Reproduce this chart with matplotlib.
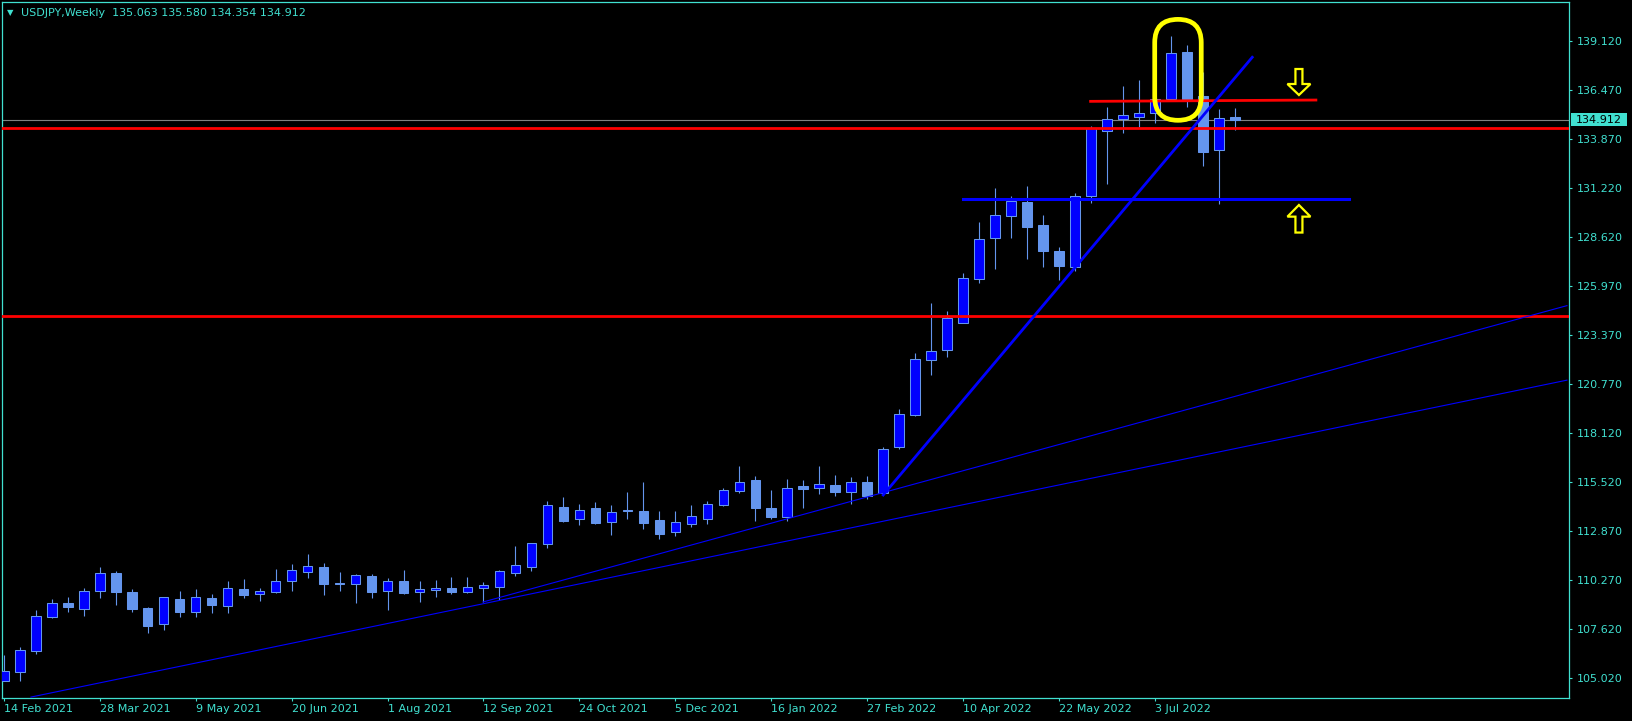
import matplotlib
matplotlib.use("Agg")
import matplotlib.pyplot as plt
import matplotlib.transforms as mtransforms
from matplotlib.patches import FancyBboxPatch, Polygon, Rectangle
import numpy as np

# USDJPY weekly bars, week of 14 Feb 2021 to week of 7 Aug 2022
opens = [104.89, 105.37, 106.50, 108.32, 109.03, 108.74, 109.71, 110.65, 109.64, 108.76,
         107.94, 109.24, 108.55, 109.30, 108.91, 109.78, 109.51, 109.65, 110.21, 110.73,
         110.98, 110.12, 110.05, 110.49, 109.67, 110.23, 109.62, 109.73, 109.85, 109.65,
         109.87, 109.92, 110.67, 110.96, 112.19, 114.17, 113.53, 114.12, 113.37, 114.03,
         113.97, 113.49, 112.83, 113.30, 113.56, 114.31, 115.06, 115.62, 114.12, 113.67,
         115.31, 115.22, 115.37, 115.01, 115.51, 114.92, 117.38, 119.13, 122.08, 122.61,
         124.02, 126.38, 128.58, 129.75, 130.52, 129.29, 127.90, 127.02, 130.86, 134.34,
         134.97, 135.09, 135.30, 136.05, 138.55, 136.18, 133.29, 135.063]
highs = [106.26, 106.69, 108.67, 109.26, 109.35, 109.85, 110.98, 110.76, 109.78, 108.82,
         109.35, 109.69, 109.80, 109.53, 110.23, 110.33, 109.87, 110.87, 111.15, 111.67,
         111.17, 110.71, 110.60, 110.60, 110.37, 110.81, 110.23, 110.28, 110.44, 110.44,
         110.17, 110.80, 112.10, 112.28, 114.51, 114.71, 114.35, 114.46, 114.28, 114.99,
         115.53, 113.97, 113.97, 114.29, 114.51, 115.21, 116.38, 115.85, 115.10, 115.69,
         115.63, 116.38, 115.90, 115.79, 115.85, 117.38, 119.44, 122.42, 125.09, 124.67,
         126.70, 129.45, 131.27, 130.84, 131.38, 129.82, 128.11, 131.02, 134.59, 135.61,
         136.71, 137.05, 136.60, 139.41, 138.93, 137.50, 135.50, 135.580]
lows = [104.89, 104.89, 106.33, 108.26, 108.58, 108.37, 109.32, 108.96, 108.57, 107.46,
        107.62, 108.30, 108.30, 108.53, 108.53, 109.32, 109.17, 109.58, 109.71, 110.40,
        109.49, 109.71, 109.07, 109.33, 108.67, 109.53, 109.10, 109.37, 109.53, 109.60,
        109.10, 109.19, 110.51, 110.78, 112.01, 113.40, 113.24, 113.30, 112.71, 113.56,
        113.03, 112.49, 112.63, 113.13, 113.30, 114.24, 114.96, 113.46, 113.56, 113.46,
        114.13, 114.90, 114.79, 114.37, 114.62, 114.81, 117.29, 119.08, 121.27, 122.24,
        124.02, 126.20, 126.95, 128.61, 127.49, 127.02, 126.36, 126.84, 130.45, 131.50,
        134.23, 134.54, 134.77, 136.02, 135.59, 132.47, 130.40, 134.354]
closes = [105.41, 106.51, 108.37, 109.03, 108.85, 109.67, 110.64, 109.65, 108.73, 107.82,
          109.35, 108.58, 109.35, 108.96, 109.83, 109.49, 109.67, 110.21, 110.80, 111.01,
          110.08, 110.05, 110.53, 109.65, 110.21, 109.60, 109.80, 109.83, 109.65, 109.90,
          109.99, 110.74, 111.08, 112.24, 114.28, 113.46, 114.01, 113.35, 113.90, 113.96,
          113.35, 112.76, 113.37, 113.69, 114.33, 115.08, 115.51, 114.13, 113.65, 115.19,
          115.15, 115.40, 114.99, 115.51, 114.79, 117.28, 119.15, 122.10, 122.52, 124.29,
          126.43, 128.52, 129.81, 130.57, 129.20, 127.91, 127.11, 130.82, 134.50, 134.95,
          135.16, 135.27, 136.05, 138.50, 136.05, 133.22, 135.02, 134.912]

# x axis labels every 6 weeks
date_ticks = [0, 6, 12, 18, 24, 30, 36, 42, 48, 54, 60, 66, 72]
date_labels = ["14 Feb 2021", "28 Mar 2021", "9 May 2021", "20 Jun 2021", "1 Aug 2021",
               "12 Sep 2021", "24 Oct 2021", "5 Dec 2021", "16 Jan 2022", "27 Feb 2022",
               "10 Apr 2022", "22 May 2022", "3 Jul 2022"]
price_labels = ["139.120", "136.470", "133.870", "131.220", "128.620", "125.970", "123.370",
                "120.770", "118.120", "115.520", "112.870", "110.270", "107.620", "105.020"]

# drawn objects
resist_levels = [134.48, 124.41]
short_red_x = [67.97, 82.06]
short_red_y = [135.91, 135.98]
support_x = [59.97, 84.13]
support_y = 130.66
steep_trend_x = [55.0, 78.08]
steep_trend_y = [114.83, 138.27]
thin_trend_a_x = [1.70, 97.76]
thin_trend_a_y = [104.01, 120.98]
thin_trend_b_x = [29.97, 97.76]
thin_trend_b_y = [109.10, 124.97]
oval_x = [71.98, 74.89]
oval_y = [134.895, 140.30]
arrow_bar = 81
arrow_down_tip = 136.25
arrow_up_tip = 130.36
bid = 134.912

turq = "#40E0D0"
bull_fill = "#0000FF"
bear_fill = "#6495ED"
edge = "#6495ED"

W, H = 1633, 721
fig = plt.figure(figsize=(W / 100, H / 100), dpi=100, facecolor="black")
ax_l, ax_r, ax_t, ax_b = 2.5, 1569, 2.3, 697.5
ax = fig.add_axes([ax_l / W, 1 - ax_b / H, (ax_r - ax_l) / W, (ax_b - ax_t) / H])
ax.set_facecolor("black")

xlim = (-0.081, 97.89)
ylim = (103.986, 141.214)
ax.set_xlim(*xlim)
ax.set_ylim(*ylim)

x = np.arange(len(opens))
o = np.array(opens)
c = np.array(closes)
up = c >= o

# bid line under candles
ax.axhline(bid, color="#808080", lw=0.8, zorder=1)

# candles
ax.vlines(x, lows, highs, color=edge, lw=0.8, zorder=2)
ax.bar(x, np.abs(c - o), bottom=np.minimum(o, c), width=0.6,
       color=np.where(up, bull_fill, bear_fill), edgecolor=edge, lw=0.75, zorder=3)

# horizontal levels and trend lines
for lvl in resist_levels:
    ax.axhline(lvl, color="#FF0000", lw=2.0, zorder=4)
ax.plot(short_red_x, short_red_y, color="#FF0000", lw=2.0, zorder=4)
ax.plot(support_x, [support_y, support_y], color="#0000FF", lw=2.2, zorder=4)
ax.plot(thin_trend_a_x, thin_trend_a_y, color="#0000FF", lw=0.8, zorder=4)
ax.plot(thin_trend_b_x, thin_trend_b_y, color="#0000FF", lw=0.8, zorder=4)
ax.plot(steep_trend_x, steep_trend_y, color="#0000FF", lw=2.0, zorder=4)

# yellow oval around the two top candles
ppx_x = (xlim[1] - xlim[0]) / (ax_r - ax_l)
ppx_y = (ylim[1] - ylim[0]) / (ax_b - ax_t)
ow = oval_x[1] - oval_x[0]
oval = FancyBboxPatch((oval_x[0], oval_y[0]), ow, oval_y[1] - oval_y[0],
                      boxstyle=f"round,pad=0,rounding_size={ow / 2}",
                      mutation_aspect=ppx_y / ppx_x,
                      fill=False, edgecolor="#FFFF00", lw=3.4, zorder=5)
ax.add_patch(oval)

# hollow arrows (shape in pixels, anchored at tip)
down_shape = np.array([(0, 0), (11.5, 11), (3.5, 11), (3.5, 26), (-3.5, 26), (-3.5, 11), (-11.5, 11)]) / 100
up_shape = down_shape * np.array([1, -1]) * np.array([1, 1.06])
for shape, tip in [(down_shape, arrow_down_tip), (up_shape, arrow_up_tip)]:
    tr = fig.dpi_scale_trans + mtransforms.ScaledTranslation(arrow_bar, tip, ax.transData)
    ax.add_patch(Polygon(shape, closed=True, fill=False, edgecolor="#FFFF00", lw=1.6,
                         transform=tr, zorder=5, clip_on=False))

# axes styling
for s in ax.spines.values():
    s.set_color(turq)
    s.set_linewidth(0.9)
ax.yaxis.tick_right()
ax.set_yticks(np.linspace(139.12, 105.02, len(price_labels)))
ax.set_yticklabels(price_labels)
ax.set_xticks(date_ticks)
ax.set_xticklabels(date_labels)
ax.tick_params(axis="both", colors=turq, labelcolor=turq, labelsize=8, width=0.8, length=2.4)
ax.tick_params(axis="y", pad=3)
ax.tick_params(axis="x", pad=2)
for lbl in ax.get_xticklabels():
    lbl.set_ha("left")

# current price tag
blend = mtransforms.blended_transform_factory(ax.transAxes, ax.transData)
tag_h = 13 * ppx_y
ax.add_patch(Rectangle((1 + 2 / (ax_r - ax_l), bid - tag_h / 2), 56 / (ax_r - ax_l), tag_h,
                       transform=blend, facecolor=turq, edgecolor="none", clip_on=False, zorder=6))
ax.text(1 + 7 / (ax_r - ax_l), bid, "134.912", transform=blend, color="black", fontsize=8,
        va="center", ha="left", zorder=7, clip_on=False)

# header
ax.text(0.0118, 0.985, "USDJPY,Weekly  135.063 135.580 134.354 134.912", transform=ax.transAxes,
        color=turq, fontsize=8, va="center", ha="left")
ax.text(0.0052, 0.985, "▼", transform=ax.transAxes, color=turq, fontsize=6, va="center", ha="center")

fig.savefig("out.png", dpi=100, facecolor="black")
